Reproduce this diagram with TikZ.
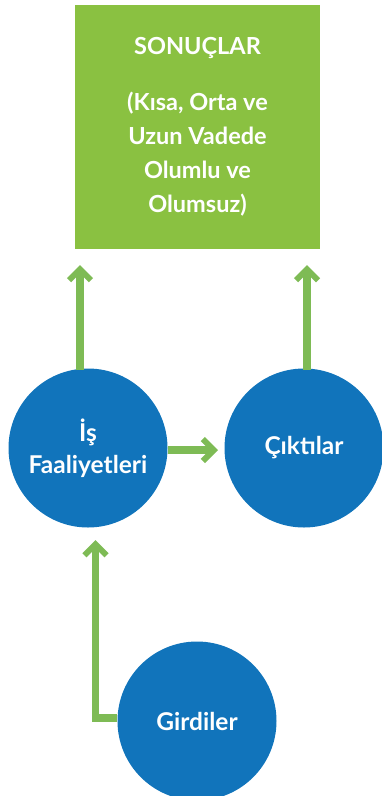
\documentclass[tikz,border=0pt]{standalone}
\usepackage{fontspec}
\setmainfont{Lato}
\usetikzlibrary{arrows.meta}
\definecolor{boxgreen}{HTML}{8AC141}
\definecolor{arrgreen}{HTML}{7EBB55}
\definecolor{circblue}{HTML}{1174BB}
\tikzset{
  circ/.style={circle, fill=circblue, minimum size=159pt, inner sep=0pt, text=white,
    font=\fontsize{24.5}{32}\selectfont\bfseries, align=center},
  flow/.style={draw=arrgreen, line width=7.5pt,
    -{Straight Barb[length=11pt, width=22pt, line width=6pt]}},
}
\begin{document}
\begin{tikzpicture}[x=1pt,y=-1pt]
\useasboundingbox (0,0) rectangle (381,796);
\node[fill=boxgreen, minimum width=245pt, minimum height=244pt, inner sep=0pt,
  text=white, align=center, font=\fontsize{23.5}{34}\selectfont\bfseries]
  (out) at (197.5,127) {SONUÇLAR\\[22pt](Kısa, Orta ve\\Uzun Vadede\\Olumlu ve\\Olumsuz)};
\node[circ] (act) at (88,448) {İş\\Faaliyetleri};
\node[circ] (res) at (304,448) {Çıktılar};
\node[circ] (inp) at (197,721) {Girdiler};
\coordinate (t1) at (80,265);
\coordinate (t2) at (307,265);
\coordinate (t3) at (218,450);
\coordinate (t4) at (95.5,540);
\draw[flow] (80,370) -- (t1);
\draw[flow] (307,370) -- (t2);
\draw[flow] (act.east |- t3) -- (t3);
\draw[flow] (inp.west |- 0,718) -- (95.5,718) -- (t4);
\end{tikzpicture}
\end{document}
